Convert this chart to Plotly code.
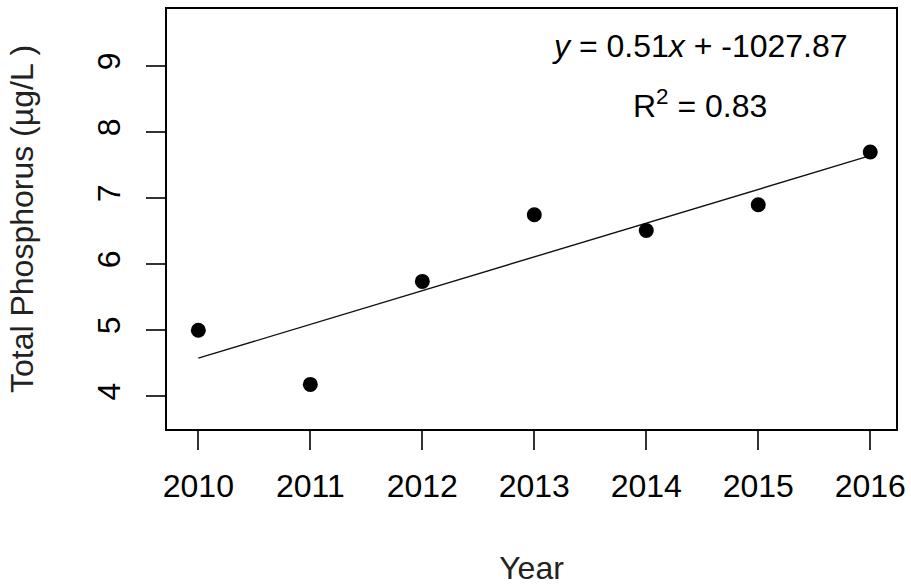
import numpy as np
import plotly.graph_objects as go

years = [2010, 2011, 2012, 2013, 2014, 2015, 2016]
phosphorus = [5.0, 4.18, 5.74, 6.75, 6.51, 6.9, 7.7]
x_ticks = [2010, 2011, 2012, 2013, 2014, 2015, 2016]
y_ticks = [4, 5, 6, 7, 8, 9]
eq_text = "<i>y</i> = 0.51<i>x</i> + -1027.87"
r2_text = "R<sup>2</sup> = 0.83"

slope, intercept = np.polyfit(years, phosphorus, 1)
fit_x = [min(years), max(years)]
fit_y = [slope * v + intercept for v in fit_x]

FONT = "Liberation Sans, Arial, sans-serif"
FS = 32

fig = go.Figure()
fig.add_trace(go.Scatter(x=fit_x, y=fit_y, mode="lines",
                         line=dict(color="#111", width=1.4), showlegend=False,
                         hoverinfo="skip"))
fig.add_trace(go.Scatter(x=years, y=phosphorus, mode="markers",
                         marker=dict(color="black", size=15), showlegend=False))

axis_common = dict(showline=True, linecolor="black", linewidth=1.5, mirror=True,
                   ticks="outside", ticklen=19, tickwidth=1.5, tickcolor="#333",
                   showgrid=False, zeroline=False, automargin=False,
                   tickfont=dict(family=FONT, size=FS, color="black"))

L, T, R, B = 167, 9, 15, 157
W, H = 911, 586

fig.update_layout(
    template="none",
    width=W, height=H,
    margin=dict(l=L, r=R, t=T, b=B, autoexpand=False),
    paper_bgcolor="white", plot_bgcolor="white",
    font=dict(family=FONT, size=FS, color="black"),
    xaxis=dict(range=[2009.72, 2016.23], tickvals=x_ticks, ticktext=[str(v) for v in x_ticks],
               ticklabelstandoff=9,
               title=dict(text="Year", font=dict(family=FONT, size=FS, color="#222"), standoff=55),
               **axis_common),
    yaxis=dict(range=[3.505, 9.865], tickvals=y_ticks, ticktext=[str(v) for v in y_ticks],
               tickangle=-90, ticklabelstandoff=13,
               title=dict(text="Total Phosphorus (µg/L )", font=dict(family=FONT, size=FS, color="#222"), standoff=48),
               **axis_common),
)
pw, ph = W - L - R, H - T - B
for txt, px, py in [(eq_text, 700, 46), (r2_text, 700, 104)]:
    fig.add_annotation(text=txt, xref="paper", yref="paper", showarrow=False,
                       x=(px - L) / pw, y=1 - (py - T) / ph,
                       xanchor="center", yanchor="middle",
                       font=dict(family=FONT, size=FS, color="black"))

fig.write_html("out.html", config={"displayModeBar": False},
               post_script="document.body.style.margin='0';document.body.style.overflow='hidden';")
